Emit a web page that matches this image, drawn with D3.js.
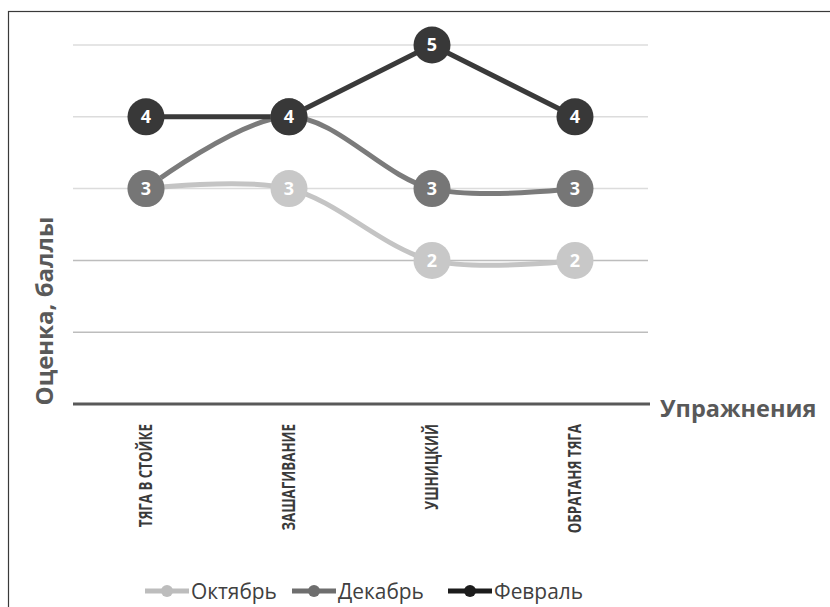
<!DOCTYPE html>
<html>
<head>
<meta charset="utf-8">
<script src="https://cdn.jsdelivr.net/npm/d3@7/dist/d3.min.js"></script>
<style>
  html, body { margin: 0; padding: 0; background: #fff; }
  svg { display: block; }
</style>
</head>
<body>
<svg id="chart" width="830" height="607"></svg>
<script>
// Exercises and scores by month
const categories = ["ТЯГА В СТОЙКЕ", "ЗАШАГИВАНИЕ", "УШНИЦКИЙ", "ОБРАТАНЯ ТЯГА"];
const october  = [3, 3, 2, 2];
const december = [3, 4, 3, 3];
const february = [4, 4, 5, 4];
const yTicks = [0, 1, 2, 3, 4, 5];

const series = [
  { name: "Октябрь", values: october,  line: "#c4c4c4", marker: "#c8c8c8", legend: "#bdbdbd", smooth: true },
  { name: "Декабрь", values: december, line: "#7b7b7b", marker: "#767676", legend: "#6e6e6e", smooth: true },
  { name: "Февраль", values: february, line: "#3a3a3a", marker: "#383838", legend: "#1c1c1c", smooth: false }
];

const svg = d3.select("#chart");

// Outer frame
svg.append("rect")
  .attr("x", 8.5).attr("y", 11.5)
  .attr("width", 840).attr("height", 620)
  .attr("fill", "none").attr("stroke", "#3a3a3a").attr("stroke-width", 1.2);

const x = d3.scaleBand().domain(categories).range([74.5, 646.5]);
const y = d3.scaleLinear().domain([0, 5]).range([404, 45]);

// Grid lines
svg.append("g").selectAll("line")
  .data(yTicks.filter(d => d > 0))
  .join("line")
  .attr("x1", 73).attr("x2", 648)
  .attr("y1", d => y(d)).attr("y2", d => y(d))
  .attr("stroke", d => d <= 2 ? "#bdbdbd" : "#dcdcdc")
  .attr("stroke-width", 1.5);

// Category axis
svg.append("line")
  .attr("x1", 73).attr("x2", 650)
  .attr("y1", y(0)).attr("y2", y(0))
  .attr("stroke", "#595959").attr("stroke-width", 3);

const axis = d3.axisBottom(x).tickSize(0).tickPadding(0);
const gAxis = svg.append("g").attr("transform", `translate(0,${y(0)})`).call(axis);
gAxis.select(".domain").remove();
gAxis.selectAll("text")
  .attr("transform", "translate(0,20) rotate(-90)")
  .attr("dy", "0.36em")
  .attr("x", 0).attr("y", 0)
  .style("text-anchor", "end")
  .style("font-family", "'Open Sans', sans-serif")
  .style("font-weight", "bold")
  .style("font-size", "18px")
  .style("fill", "#3a3a3a")
  .each(function () {
    // condensed glyphs along the reading direction
    const len = this.getComputedTextLength();
    d3.select(this).attr("textLength", len * 0.74).attr("lengthAdjust", "spacingAndGlyphs");
  });

// Axis titles
svg.append("text")
  .attr("x", 660).attr("y", 417)
  .style("font-family", "'Open Sans', sans-serif")
  .style("font-weight", "bold")
  .style("font-size", "23.5px")
  .style("fill", "#595959")
  .text("Упражнения");

svg.append("text")
  .attr("transform", "translate(53,311) rotate(-90)")
  .attr("text-anchor", "middle")
  .style("font-family", "'Open Sans', sans-serif")
  .style("font-weight", "bold")
  .style("font-size", "24px")
  .style("fill", "#595959")
  .text("Оценка, баллы");

// Lines
const cx = c => x(c) + x.bandwidth() / 2;
series.forEach(s => {
  const line = d3.line()
    .x((d, i) => cx(categories[i]))
    .y(d => y(d))
    .curve(s.smooth ? d3.curveCatmullRom.alpha(0.5) : d3.curveLinear);
  svg.append("path")
    .datum(s.values)
    .attr("d", line)
    .attr("fill", "none")
    .attr("stroke", s.line)
    .attr("stroke-width", 5)
    .attr("stroke-linejoin", "round");
});

// Markers with value labels
series.forEach(s => {
  const g = svg.append("g");
  g.selectAll("circle")
    .data(s.values)
    .join("circle")
    .attr("cx", (d, i) => cx(categories[i]))
    .attr("cy", d => y(d))
    .attr("r", 18.5)
    .attr("fill", s.marker);
  g.selectAll("text")
    .data(s.values)
    .join("text")
    .attr("x", (d, i) => cx(categories[i]))
    .attr("y", d => y(d))
    .attr("dy", "0.36em")
    .attr("text-anchor", "middle")
    .style("font-family", "'Open Sans', sans-serif")
    .style("font-weight", "bold")
    .style("font-size", "18px")
    .style("fill", "#fff")
    .text(d => d);
});

// Legend
const legendX = [145, 292, 448];
const legend = svg.append("g");
series.forEach((s, i) => {
  const lx = legendX[i];
  legend.append("line")
    .attr("x1", lx).attr("x2", lx + 44)
    .attr("y1", 591).attr("y2", 591)
    .attr("stroke", s.legend).attr("stroke-width", 5);
  legend.append("circle")
    .attr("cx", lx + 22).attr("cy", 591).attr("r", 6)
    .attr("fill", s.legend);
  legend.append("text")
    .attr("transform", `translate(${lx + 46},591) scale(0.95,1)`)
    .attr("dy", "0.35em")
    .style("font-family", "'Open Sans', sans-serif")
    .style("font-size", "22px")
    .style("fill", "#404040")
    .text(s.name);
});
</script>
</body>
</html>
